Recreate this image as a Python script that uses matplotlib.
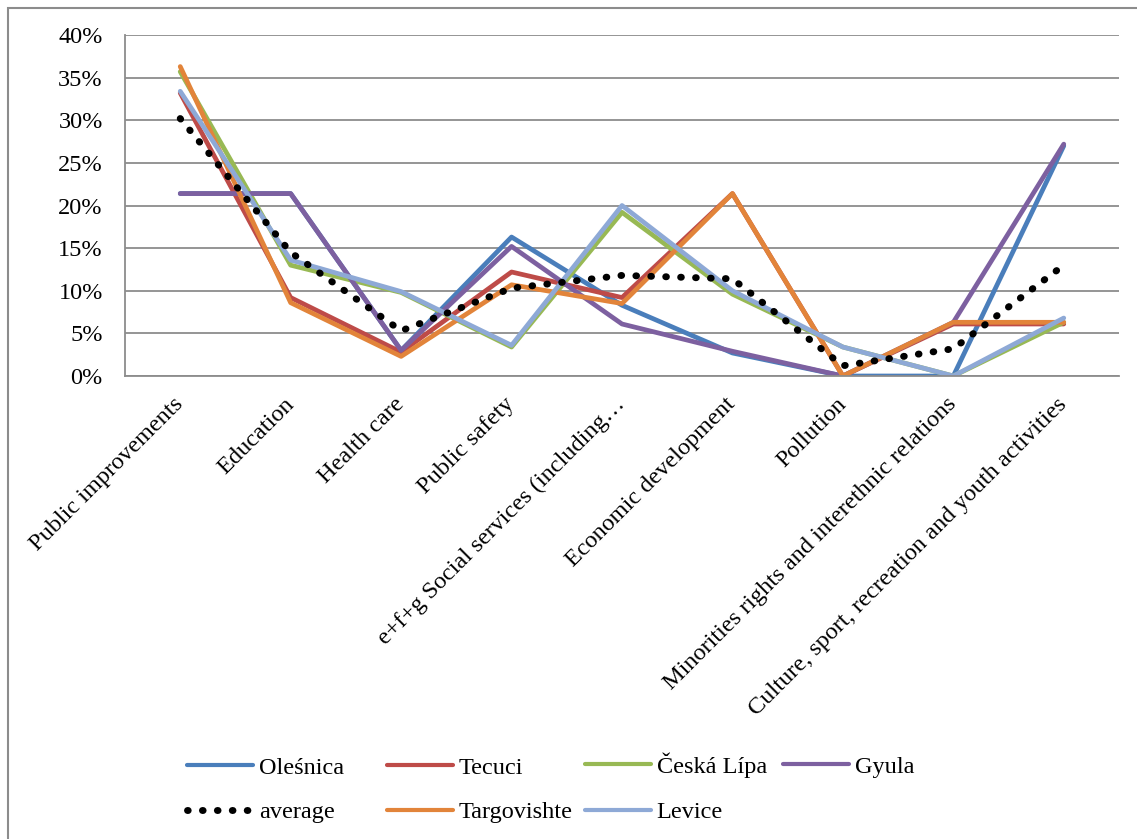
import matplotlib
matplotlib.use("Agg")
import matplotlib.pyplot as plt
from matplotlib.lines import Line2D
from matplotlib.patches import Rectangle
from matplotlib.ticker import PercentFormatter

plt.rcParams['font.family'] = ['Liberation Serif', 'DejaVu Serif']

categories = ["Public improvements", "Education", "Health care", "Public safety",
              "e+f+g Social services (including\u2026", "Economic development", "Pollution",
              "Minorities rights and interethnic relations",
              "Culture, sport, recreation and youth activities"]

olesnica = [21.4, 21.4, 3.0, 16.3, 8.3, 2.7, 0.0, 0.0, 27.0]
tecuci = [33.2, 9.2, 2.8, 12.2, 9.2, 21.4, 0.0, 6.1, 6.1]
ceska_lipa = [35.7, 13.0, 9.8, 3.4, 19.2, 9.6, 3.4, 0.0, 6.3]
gyula = [21.4, 21.4, 3.0, 15.2, 6.1, 2.9, 0.0, 6.3, 27.2]
average = [30.2, 14.5, 5.3, 10.3, 11.8, 11.4, 1.2, 3.2, 13.0]
targovishte = [36.3, 8.6, 2.3, 10.7, 8.5, 21.4, 0.0, 6.3, 6.3]
levice = [33.4, 13.6, 9.9, 3.6, 20.0, 10.0, 3.4, 0.0, 6.8]

series = [("Oleśnica", olesnica, "#4A7EBB"),
          ("Tecuci", tecuci, "#BE4B48"),
          ("Česká Lípa", ceska_lipa, "#98B954"),
          ("Gyula", gyula, "#7D60A0"),
          ("average", average, "black"),
          ("Targovishte", targovishte, "#E2843A"),
          ("Levice", levice, "#8EA9D6")]

DOTS = (0, (0.1, 2.05))
DOT_LW = 5.0

fig = plt.figure(figsize=(11.37, 8.39), dpi=100)
ax = fig.add_axes([125 / 1137, 1 - 376 / 839, (1119 - 125) / 1137, (376 - 35) / 839])

x = list(range(len(categories)))
handles = {}
for name, vals, col in series:
    if name == "average":
        h, = ax.plot(x, vals, color=col, lw=DOT_LW, ls=DOTS,
                     dash_capstyle='round', label=name, zorder=3)
    else:
        h, = ax.plot(x, vals, color=col, lw=3.4, label=name, zorder=2,
                     solid_capstyle='round')
    handles[name] = h

ax.set_xlim(-0.5, len(categories) - 0.5)
ax.set_ylim(0, 40)
ax.set_yticks(range(0, 41, 5))
ax.yaxis.set_major_formatter(PercentFormatter(decimals=0))
ax.grid(axis='y', color='#8c8c8c', lw=1.3)
ax.set_axisbelow(True)
for s in ['top', 'right']:
    ax.spines[s].set_visible(False)
for s in ['left', 'bottom']:
    ax.spines[s].set_color('#8c8c8c')
    ax.spines[s].set_linewidth(1.3)
ax.tick_params(axis='both', length=0, labelsize=17.5)
ax.tick_params(axis='y', pad=16)
ax.set_xticks(x)
ax.set_xticklabels(categories, rotation=45, ha='right', va='center',
                   rotation_mode='anchor', fontsize=17.5)
ax.tick_params(axis='x', pad=18)

# legend entries placed like the spreadsheet's grid (two rows, four columns)
legend_pos = [("Oleśnica", 187, 768), ("Tecuci", 387, 768), ("Česká Lípa", 585, 765),
              ("Gyula", 783, 767), ("average", 187, 812), ("Targovishte", 387, 812),
              ("Levice", 585, 812)]
for n, px, py in legend_pos:
    h = handles[n]
    if n == "average":
        lh = Line2D([], [], color='black', lw=DOT_LW, ls=DOTS, dash_capstyle='round')
    else:
        lh = Line2D([], [], color=h.get_color(), lw=3.0, solid_capstyle='round')
    fig.legend([lh], [n], loc='center left',
               bbox_to_anchor=(px / 1137, 1 - py / 839), frameon=False,
               fontsize=17.5, handlelength=2.7, handletextpad=0.25,
               borderpad=0, borderaxespad=0)

fig.patches.append(Rectangle((8 / 1137, -0.1), 1.2, (839 - 8) / 839 + 0.1,
                             transform=fig.transFigure, fill=False,
                             ec='#8c8c8c', lw=1.5))

fig.savefig("out.png", dpi=100)
